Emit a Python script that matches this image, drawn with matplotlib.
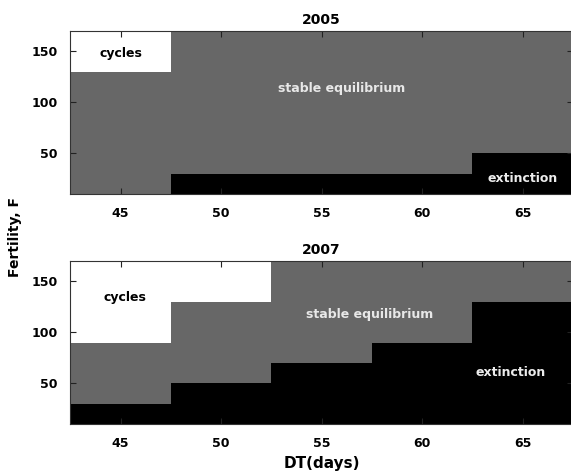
import numpy as np
import matplotlib
matplotlib.use("Agg")
import matplotlib.pyplot as plt
from matplotlib.colors import ListedColormap, BoundaryNorm

plt.rcParams['font.family'] = ['DejaVu Sans']
plt.rcParams['font.weight'] = 'bold'

# Development time (days) and fertility grid used in the simulations
dt_days = [45, 50, 55, 60, 65]
fertility = [20, 40, 60, 80, 100, 120, 140, 160]

# Per-DT regime boundaries in fertility:
# below ext_* -> extinction, above cyc_* -> cycles, in between -> stable equilibrium
years = ["2005", "2007"]
ext_2005 = [10, 30, 30, 30, 50]
cyc_2005 = [130, 170, 170, 170, 170]
ext_2007 = [30, 50, 70, 90, 130]
cyc_2007 = [90, 130, 170, 170, 170]

labels_2005 = {"cycles": (45.0, 148), "stable equilibrium": (56.0, 113), "extinction": (65.0, 25)}
labels_2007 = {"cycles": (45.2, 134), "stable equilibrium": (57.4, 118), "extinction": (64.4, 61)}


def regime_grid(ext, cyc):
    F = np.array(fertility, dtype=float)[:, None]
    e = np.array(ext, dtype=float)[None, :]
    c = np.array(cyc, dtype=float)[None, :]
    grid = np.ones((len(fertility), len(dt_days)))
    grid[F < e] = 0
    grid[F > c] = 2
    return grid


def edges(centers):
    c = np.asarray(centers, dtype=float)
    step = c[1] - c[0]
    return np.concatenate([c - step / 2, [c[-1] + step / 2]])


cmap = ListedColormap(["black", "#676767", "white"])
norm = BoundaryNorm([-0.5, 0.5, 1.5, 2.5], cmap.N)
text_colors = {"cycles": "black", "stable equilibrium": "#e8e8e8", "extinction": "#ececec"}

fig = plt.figure(figsize=(5.71, 4.74), dpi=100)
ax_top = fig.add_axes([0.1233, 0.5907, 0.8800, 0.3445])
ax_bot = fig.add_axes([0.1233, 0.1049, 0.8800, 0.3445])

for ax, year, ext, cyc, labels in [
    (ax_top, years[0], ext_2005, cyc_2005, labels_2005),
    (ax_bot, years[1], ext_2007, cyc_2007, labels_2007),
]:
    ax.pcolormesh(edges(dt_days), edges(fertility), regime_grid(ext, cyc),
                  cmap=cmap, norm=norm, shading="flat")
    ax.set_xlim(42.5, 67.5)
    ax.set_ylim(10, 170)
    ax.set_xticks(dt_days)
    ax.set_yticks([50, 100, 150])
    ax.tick_params(direction="in", top=True, right=True, length=4, width=0.8,
                   labelsize=9, pad=9, color="#222222")
    for lab in ax.get_xticklabels() + ax.get_yticklabels():
        lab.set_fontweight("bold")
    for sp in ax.spines.values():
        sp.set_linewidth(0.8)
        sp.set_color("#333333")
    ax.set_title(year, fontsize=10, fontweight="bold", pad=5)
    for txt, (x, y) in labels.items():
        ax.text(x, y, txt, ha="center", va="center", fontsize=9,
                fontweight="bold", color=text_colors[txt])

fig.text(0.026, 0.5, "Fertility, F", rotation=90, ha="center", va="center",
         fontsize=10, fontweight="bold")
fig.text(0.563, 0.023, "DT(days)", ha="center", va="center",
         fontsize=11, fontweight="bold")

fig.savefig("out.png", dpi=100)
